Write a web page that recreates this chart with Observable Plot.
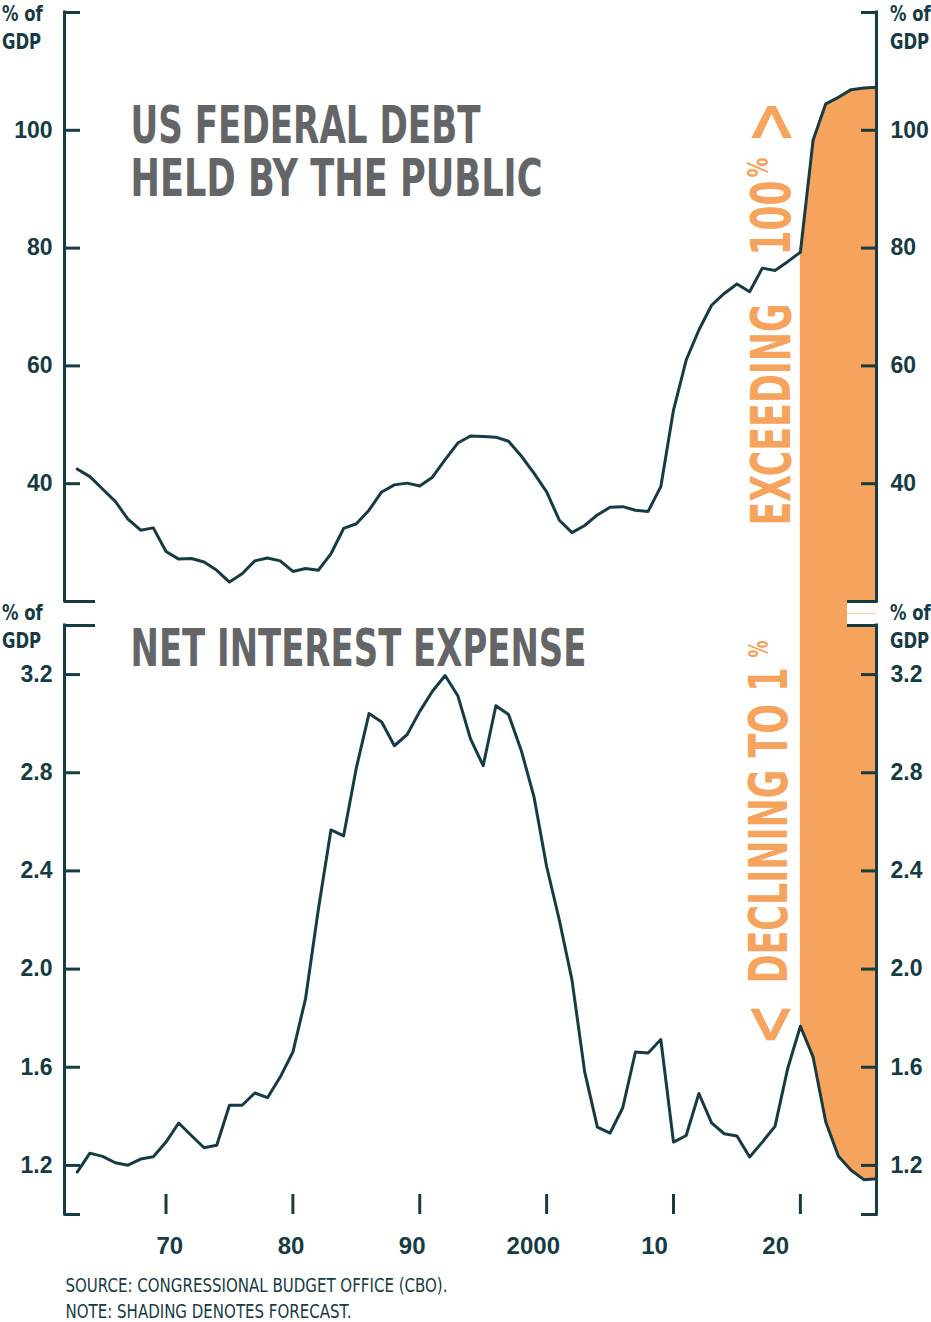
<!DOCTYPE html>
<html><head><meta charset="utf-8">
<script src="https://cdn.jsdelivr.net/npm/d3@7"></script>
<script src="https://cdn.jsdelivr.net/npm/@observablehq/plot@0.6"></script>
<style>
html,body{margin:0;padding:0;background:#fff;}
#chart{position:relative;width:931px;height:1322px;overflow:hidden;background:#fff;}
#chart svg{position:absolute;left:0;}
.gdp{position:absolute;font-family:"Liberation Sans Narrow","DejaVu Sans Condensed","Arial Narrow",sans-serif;font-weight:bold;font-size:22px;line-height:28px;color:#173b43;z-index:2;white-space:pre;transform:scaleX(0.83);transform-origin:0 0;}
</style></head><body><div id="chart"></div>
<script>
// ---- data ----
const startYear = 1963;
const forecastStart = 2020;
const debt = [42.5, 41.2, 39.1, 37.0, 34.0, 32.1, 32.5, 28.5, 27.2, 27.3,
  26.7, 25.3, 23.3, 24.7, 26.9, 27.4, 26.9, 25.1, 25.6, 25.3,
  28.1, 32.4, 33.2, 35.5, 38.6, 39.8, 40.1, 39.6, 41.1, 44.1,
  46.9, 48.1, 48.0, 47.9, 47.2, 44.7, 41.8, 38.6, 33.8, 31.7,
  32.9, 34.7, 36.0, 36.1, 35.5, 35.3, 39.5, 52.5, 61.0, 66.1,
  70.3, 72.3, 73.9, 72.6, 76.6, 76.2, 77.7, 79.3, 98.3, 104.5,
  105.6, 106.9, 107.2, 107.3];
const interest = [1.173, 1.250, 1.237, 1.211, 1.201, 1.226, 1.235, 1.295, 1.373, 1.322,
  1.272, 1.282, 1.445, 1.445, 1.495, 1.476, 1.560, 1.662, 1.880, 2.241,
  2.567, 2.543, 2.819, 3.041, 3.007, 2.910, 2.955, 3.050, 3.132, 3.196,
  3.114, 2.938, 2.829, 3.073, 3.037, 2.891, 2.703, 2.418, 2.200, 1.955,
  1.581, 1.356, 1.332, 1.435, 1.662, 1.658, 1.713, 1.295, 1.322, 1.493,
  1.373, 1.329, 1.320, 1.234, 1.295, 1.359, 1.595, 1.767, 1.642, 1.377,
  1.237, 1.180, 1.142, 1.146];
const debtTicks = [40, 60, 80, 100];
const interestTicks = [1.2, 1.6, 2.0, 2.4, 2.8, 3.2];
const xTicks = [1970, 1980, 1990, 2000, 2010, 2020];
const xTickLabels = ["70", "80", "90", "2000", "10", "20"];
const xDomain = [1962, 2026];
const debtDomain = [20, 120];
const interestDomain = [1.0, 3.4];

// ---- styles ----
const DARK = "#173b43", ORANGE = "#f6a35d", GRAY = "#646567";
const NARROW = '"Liberation Sans Narrow","DejaVu Sans Condensed","Arial Narrow",sans-serif';
const WIDE = '"Liberation Sans",Arial,sans-serif';

const debtRows = debt.map((v, i) => ({year: startYear + i, value: v}));
const interestRows = interest.map((v, i) => ({year: startYear + i, value: v}));
const debtForecast = debtRows.filter(d => d.year >= forecastStart);
const interestForecast = interestRows.filter(d => d.year >= forecastStart);

const tickOpts = {stroke: DARK, strokeWidth: 3, fill: "none", label: null};
const labelOpts = {tickSize: 0, fill: DARK, fontSize: 23, fontWeight: "bold", fontFamily: WIDE, label: null};
const annot = (txt, o) => Plot.text([forecastStart], {x: d => d, text: () => txt, frameAnchor: "top", rotate: -90,
  textAnchor: "start", lineAnchor: "bottom", fill: ORANGE, fontWeight: "bold", fontFamily: NARROW, ...o});

const topPlot = Plot.plot({
  width: 931, height: 613, marginLeft: 64, marginRight: 55, marginTop: 12, marginBottom: 12,
  style: {fontFamily: NARROW, overflow: "hidden", background: "white"},
  x: {domain: xDomain, axis: null},
  y: {domain: debtDomain, axis: null, label: null},
  marks: [
    Plot.areaY(debtForecast, {x: "year", y: "value", fill: ORANGE}),
    Plot.axisY([debtDomain[0]], {anchor: "right", tickSize: 30, dx: -30, dy: 6, stroke: "white", strokeWidth: 12, fill: "none", label: null}),
    Plot.ruleX(xDomain, {stroke: DARK, strokeWidth: 3, strokeLinecap: "square"}),
    Plot.axisY(debtTicks.concat([debtDomain[1]]), {anchor: "left", tickSize: 16, dx: 16, ...tickOpts}),
    Plot.axisY([debtDomain[0]], {anchor: "left", tickSize: 31, dx: 31, ...tickOpts}),
    Plot.axisY(debtTicks.concat([debtDomain[1]]), {anchor: "right", tickSize: 16, dx: -16, ...tickOpts}),
    Plot.axisY([debtDomain[0]], {anchor: "right", tickSize: 30, dx: -30, ...tickOpts}),
    Plot.axisY(debtTicks, {anchor: "left", tickPadding: 12, tickFormat: d3.format("d"), ...labelOpts}),
    Plot.axisY(debtTicks, {anchor: "right", tickPadding: 14, tickFormat: d3.format("d"), ...labelOpts}),
    Plot.line(debtRows, {x: "year", y: "value", stroke: DARK, strokeWidth: 3}),
    Plot.text(["US FEDERAL DEBT"], {frameAnchor: "top-left", dx: 66, dy: 130, lineAnchor: "bottom", textAnchor: "start", fontSize: 51, fontWeight: "bold", fill: GRAY}),
    Plot.text(["HELD BY THE PUBLIC"], {frameAnchor: "top-left", dx: 66, dy: 183, lineAnchor: "bottom", textAnchor: "start", fontSize: 51, fontWeight: "bold", fill: GRAY}),
    annot("EXCEEDING", {dy: 513, dx: -10, fontSize: 56}),
    annot("100", {dy: 243, dx: -10, fontSize: 56}),
    annot("%", {dy: 165, dx: -32, fontSize: 28}),
    annot(">", {dy: 131, dx: -6, fontSize: 72})
  ]
});

const bottomPlot = Plot.plot({
  width: 931, height: 709, marginLeft: 64, marginRight: 55, marginTop: 12, marginBottom: 108,
  style: {fontFamily: NARROW, overflow: "hidden", background: "white"},
  x: {domain: xDomain, axis: null},
  y: {domain: interestDomain, axis: null, label: null},
  marks: [
    Plot.areaY(interestForecast, {x: "year", y1: "value", y2: () => interestDomain[1] + 1, fill: ORANGE}),
    Plot.axisY([interestDomain[1]], {anchor: "right", tickSize: 30, dx: -30, dy: -6, stroke: "white", strokeWidth: 12, fill: "none", label: null}),
    Plot.ruleX(xDomain, {stroke: DARK, strokeWidth: 3, strokeLinecap: "square"}),
    Plot.axisY(interestTicks.concat([interestDomain[0]]), {anchor: "left", tickSize: 16, dx: 16, ...tickOpts}),
    Plot.axisY([interestDomain[1]], {anchor: "left", tickSize: 31, dx: 31, ...tickOpts}),
    Plot.axisY(interestTicks.concat([interestDomain[0]]), {anchor: "right", tickSize: 16, dx: -16, ...tickOpts}),
    Plot.axisY([interestDomain[1]], {anchor: "right", tickSize: 30, dx: -30, ...tickOpts}),
    Plot.axisX(xTicks, {anchor: "bottom", tickSize: 20, dy: -20, ...tickOpts}),
    Plot.axisY(interestTicks, {anchor: "left", tickPadding: 12, tickFormat: d3.format(".1f"), ...labelOpts}),
    Plot.axisY(interestTicks, {anchor: "right", tickPadding: 14, tickFormat: d3.format(".1f"), ...labelOpts}),
    Plot.text(xTicks, {x: d => d - (d - 1970) * 0.045 + 0.3, text: (d, i) => xTickLabels[i], frameAnchor: "bottom", dy: 39, lineAnchor: "bottom",
      fontSize: 24, fontWeight: "bold", fontFamily: WIDE, fill: DARK}),
    Plot.line(interestRows, {x: "year", y: "value", stroke: DARK, strokeWidth: 3}),
    Plot.text(["NET INTEREST EXPENSE"], {frameAnchor: "top-left", dx: 66, dy: 40, lineAnchor: "bottom", textAnchor: "start", fontSize: 51, fontWeight: "bold", fill: GRAY}),
    annot("DECLINING TO 1", {dy: 358, dx: -13, fontSize: 54}),
    annot("%", {dy: 32, dx: -32, fontSize: 27}),
    annot("<", {dy: 420, dx: -7, fontSize: 72}),
    Plot.text(["SOURCE: CONGRESSIONAL BUDGET OFFICE (CBO)."], {frameAnchor: "bottom-left", dx: 1, dy: 77, lineAnchor: "bottom", textAnchor: "start", fontSize: 20, fill: DARK}),
    Plot.text(["NOTE: SHADING DENOTES FORECAST."], {frameAnchor: "bottom-left", dx: 1, dy: 103, lineAnchor: "bottom", textAnchor: "start", fontSize: 20, fill: DARK})
  ]
});

function fit(svg, lengths) {
  svg.querySelectorAll('g[aria-label="text"] text').forEach(t => {
    const L = lengths[t.textContent];
    if (L) { t.setAttribute("textLength", L); t.setAttribute("lengthAdjust", "spacingAndGlyphs"); }
  });
}
fit(topPlot, {"US FEDERAL DEBT": 350, "HELD BY THE PUBLIC": 412, "EXCEEDING": 222, "100": 75, "%": 20, ">": 43});
fit(bottomPlot, {"NET INTEREST EXPENSE": 456, "DECLINING TO 1": 316, "%": 17, "<": 42,
  "SOURCE: CONGRESSIONAL BUDGET OFFICE (CBO).": 382, "NOTE: SHADING DENOTES FORECAST.": 286});

const chart = document.getElementById("chart");
topPlot.style.top = "0px";
bottomPlot.style.top = "613px";
chart.appendChild(topPlot);
chart.appendChild(bottomPlot);

const gdpLabels = [
  {left: 2, top: 0}, {left: 890, top: 0}, {left: 2, top: 599}, {left: 890, top: 599}
];
gdpLabels.forEach(p => {
  const div = document.createElement("div");
  div.className = "gdp";
  div.style.left = p.left + "px";
  div.style.top = p.top + "px";
  div.textContent = "% of\nGDP";
  chart.appendChild(div);
});
</script>
</body></html>
